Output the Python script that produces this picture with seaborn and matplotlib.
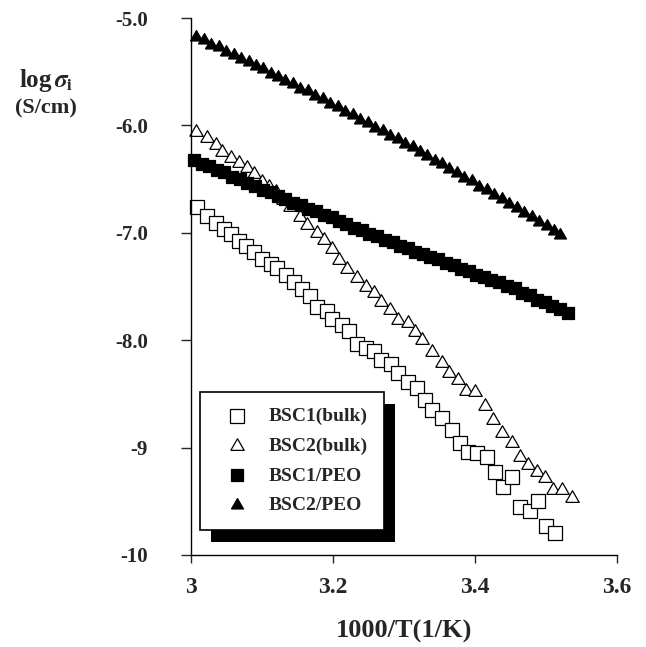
import matplotlib
matplotlib.use("Agg")
import matplotlib.pyplot as plt
from matplotlib.patches import Rectangle
import pandas as pd
import seaborn as sns

# --- data -----------------------------------------------------------------
bsc1_bulk_x = [3.008, 3.023, 3.035, 3.047, 3.056, 3.068, 3.078, 3.089, 3.100, 3.113,
               3.121, 3.134, 3.145, 3.157, 3.167, 3.178, 3.191, 3.199, 3.212, 3.223,
               3.234, 3.247, 3.258, 3.268, 3.282, 3.291, 3.305, 3.318, 3.329, 3.340,
               3.353, 3.367, 3.379, 3.390, 3.403, 3.417, 3.428, 3.439, 3.452, 3.463,
               3.477, 3.489, 3.500, 3.513]
bsc1_bulk_y = [-6.760, -6.844, -6.909, -6.965, -7.011, -7.076, -7.123, -7.179, -7.244, -7.291,
               -7.328, -7.393, -7.458, -7.523, -7.588, -7.691, -7.728, -7.803, -7.858, -7.914,
               -8.035, -8.073, -8.101, -8.184, -8.220, -8.305, -8.389, -8.445, -8.557, -8.650,
               -8.724, -8.836, -8.957, -9.041, -9.050, -9.088, -9.227, -9.367, -9.274, -9.553,
               -9.590, -9.497, -9.730, -9.795]

bsc2_bulk_x = [3.007, 3.023, 3.035, 3.044, 3.056, 3.068, 3.079, 3.089, 3.100, 3.110,
               3.120, 3.130, 3.140, 3.153, 3.164, 3.178, 3.188, 3.198, 3.209, 3.220,
               3.234, 3.247, 3.258, 3.268, 3.280, 3.291, 3.305, 3.315, 3.326, 3.339,
               3.353, 3.364, 3.376, 3.388, 3.400, 3.414, 3.425, 3.438, 3.452, 3.463,
               3.475, 3.487, 3.499, 3.510, 3.523, 3.537]
bsc2_bulk_y = [-6.061, -6.117, -6.183, -6.248, -6.304, -6.350, -6.400, -6.455, -6.527, -6.574,
               -6.620, -6.695, -6.760, -6.853, -6.927, -7.002, -7.067, -7.151, -7.253, -7.337,
               -7.421, -7.505, -7.561, -7.644, -7.719, -7.812, -7.840, -7.924, -7.998, -8.110,
               -8.212, -8.305, -8.371, -8.473, -8.482, -8.613, -8.743, -8.864, -8.957, -9.088,
               -9.162, -9.227, -9.283, -9.395, -9.395, -9.469]

bsc1_peo_x = [3.004, 3.015, 3.026, 3.036, 3.047, 3.058, 3.069, 3.079, 3.090, 3.101,
              3.112, 3.122, 3.133, 3.144, 3.155, 3.165, 3.176, 3.187, 3.198, 3.208,
              3.219, 3.230, 3.241, 3.251, 3.262, 3.273, 3.284, 3.294, 3.305, 3.316,
              3.327, 3.337, 3.348, 3.359, 3.370, 3.380, 3.391, 3.402, 3.413, 3.423,
              3.434, 3.445, 3.456, 3.466, 3.477, 3.488, 3.499, 3.509, 3.520, 3.531]
bsc1_peo_y = [-6.320, -6.356, -6.378, -6.415, -6.438, -6.478, -6.500, -6.538, -6.560, -6.600,
              -6.621, -6.660, -6.681, -6.720, -6.741, -6.777, -6.798, -6.836, -6.857, -6.893,
              -6.914, -6.953, -6.973, -7.009, -7.030, -7.067, -7.086, -7.120, -7.138, -7.175,
              -7.193, -7.227, -7.246, -7.282, -7.301, -7.335, -7.353, -7.390, -7.408, -7.442,
              -7.461, -7.497, -7.518, -7.557, -7.581, -7.623, -7.647, -7.686, -7.710, -7.747]

bsc2_peo_x = [3.007, 3.018, 3.028, 3.039, 3.049, 3.060, 3.070, 3.081, 3.091, 3.102,
              3.112, 3.123, 3.133, 3.144, 3.154, 3.165, 3.175, 3.186, 3.196, 3.207,
              3.217, 3.228, 3.238, 3.249, 3.259, 3.270, 3.280, 3.291, 3.301, 3.312,
              3.322, 3.333, 3.343, 3.354, 3.364, 3.375, 3.385, 3.396, 3.406, 3.417,
              3.427, 3.438, 3.448, 3.459, 3.469, 3.480, 3.490, 3.501, 3.511, 3.520]
bsc2_peo_y = [-5.180, -5.205, -5.250, -5.274, -5.315, -5.341, -5.382, -5.408, -5.449, -5.478,
              -5.518, -5.545, -5.588, -5.614, -5.658, -5.684, -5.729, -5.757, -5.801, -5.829,
              -5.874, -5.902, -5.948, -5.977, -6.022, -6.052, -6.098, -6.128, -6.174, -6.204,
              -6.251, -6.282, -6.329, -6.360, -6.408, -6.440, -6.488, -6.521, -6.569, -6.602,
              -6.651, -6.684, -6.733, -6.767, -6.817, -6.851, -6.901, -6.936, -6.986, -7.018]

x_ticks = [3.0, 3.2, 3.4, 3.6]
x_tick_labels = ["3", "3.2", "3.4", "3.6"]
y_ticks = [-10, -9, -8, -7, -6, -5]
y_tick_labels = ["-10", "-9", "-8.0", "-7.0", "-6.0", "-5.0"]

# equilateral triangle centred on its centroid, closed so the outline is complete
TRI = [(-1.0, -0.577), (1.0, -0.577), (0.0, 1.155), (-1.0, -0.577)]

series = [
    ("BSC1(bulk)", bsc1_bulk_x, bsc1_bulk_y, "s", "white", 90),
    ("BSC2(bulk)", bsc2_bulk_x, bsc2_bulk_y, TRI, "white", 125),
    ("BSC1/PEO", bsc1_peo_x, bsc1_peo_y, "s", "black", 75),
    ("BSC2/PEO", bsc2_peo_x, bsc2_peo_y, TRI, "black", 100),
]

sns.set_style("ticks")
plt.rcParams["font.family"] = ["Liberation Serif", "DejaVu Serif"]
plt.rcParams["font.weight"] = "bold"
plt.rcParams["mathtext.fontset"] = "stix"

fig = plt.figure(figsize=(6.46, 6.47), dpi=100)
ax = fig.add_axes([191 / 646, 1 - 555 / 647, 426 / 646, 537 / 647])

for name, xs, ys, marker, face, size in series:
    df = pd.DataFrame({"x": xs, "y": ys})
    sns.scatterplot(data=df, x="x", y="y", ax=ax, marker=marker, s=size,
                    facecolor=face, edgecolor="black", linewidth=0.9,
                    label=name, clip_on=False)

ax.set_xlim(3.0, 3.6)
ax.set_ylim(-10, -5)
ax.set_xticks(x_ticks)
ax.set_xticklabels(x_tick_labels)
ax.set_yticks(y_ticks)
ax.set_yticklabels(y_tick_labels)
ax.tick_params(axis="x", labelsize=17, length=6, width=1, pad=10, direction="out")
ax.tick_params(axis="y", labelsize=15, length=7, width=1, pad=24, direction="out")
ax.set_xlabel("")
ax.set_ylabel("")
sns.despine(ax=ax)
for sp in ("left", "bottom"):
    ax.spines[sp].set_linewidth(1.0)
    ax.spines[sp].set_color("black")

ax.text(0.5, -0.143, "1000/T(1/K)", transform=ax.transAxes, ha="center",
        va="center", fontsize=19, fontweight="bold")
fig.text(46 / 646, 1 - 80 / 647, r"log$\,\sigma_{\mathrm{i}}$", ha="center",
         va="center", fontsize=18)
fig.text(46 / 646, 1 - 108 / 647, "(S/cm)", ha="center", va="center", fontsize=16)

leg = ax.legend(loc="lower left", bbox_to_anchor=(0.021, 0.047), fontsize=14,
                frameon=True, fancybox=False, framealpha=1, edgecolor="black",
                borderpad=0.8, labelspacing=0.62, handlelength=2.2,
                handletextpad=0.55, borderaxespad=0)
leg.get_frame().set_linewidth(1.2)

# heavy black drop shadow to the lower right of the legend box
fig.canvas.draw()
bb = leg.get_frame().get_window_extent()
inv = ax.transAxes.inverted()
(x0, y0), (x1, y1) = inv.transform([(bb.x0 + 11, bb.y0 - 12), (bb.x1 + 11, bb.y1 - 12)])
ax.add_patch(Rectangle((x0, y0), x1 - x0, y1 - y0, transform=ax.transAxes,
                       facecolor="black", edgecolor="none", zorder=4.9, clip_on=False))

fig.savefig("out.png", dpi=100)
